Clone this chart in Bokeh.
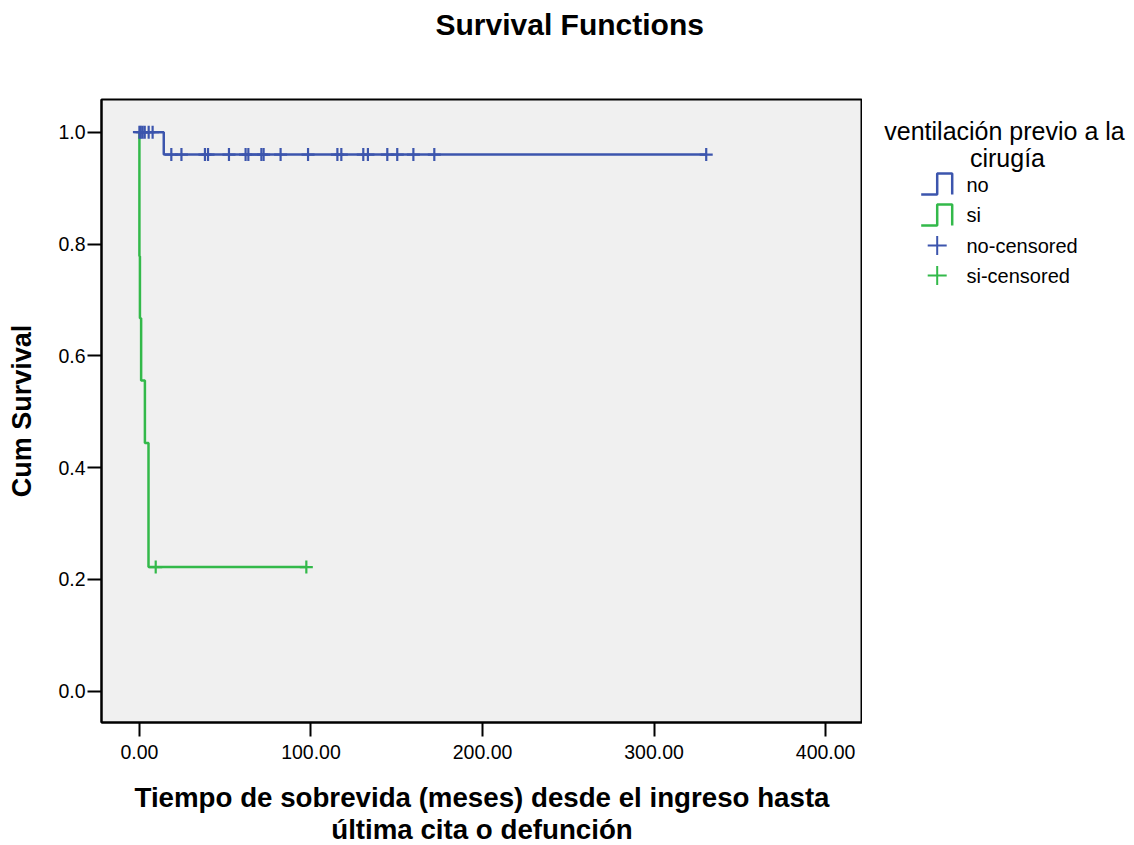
from bokeh.plotting import figure
from bokeh.models import Range1d, FixedTicker, PrintfTickFormatter, Title
from bokeh.layouts import row
from bokeh.embed import file_html
from bokeh.resources import INLINE
from bokeh.core.properties import value

# ---------------- data ----------------
chart_title = "Survival Functions"
group_names = ["no", "si"]
legend_labels = ["no", "si", "no-censored", "si-censored"]
legend_title = ["ventilación previo a la", "cirugía"]

# Kaplan-Meier step curves (time in months, cumulative survival)
no_time = [0.0, 14.2, 330.4]
no_surv = [1.0, 0.96, 0.96]
si_time = [0.0, 0.0, 0.3, 1.0, 3.2, 5.3, 97.3]
si_surv = [1.0, 0.778, 0.667, 0.556, 0.444, 0.222, 0.222]

# censored observations (months)
no_censored = [0.0, 0.8, 1.9, 3.1, 5.4, 7.7, 18.6, 24.5, 38.2, 40.0, 52.2,
               61.9, 63.5, 71.1, 72.4, 82.3, 98.3, 115.4, 117.7, 130.5,
               133.2, 144.5, 150.3, 159.7, 171.9, 330.4]
si_censored = [9.5, 97.3]

x_ticks = [0, 100, 200, 300, 400]
y_ticks = [0.0, 0.2, 0.4, 0.6, 0.8, 1.0]

BLUE = "#3c55ad"
GREEN = "#33b94a"
FONT = "Liberation Sans"


def surv_at(times, surv, t):
    s = surv[0]
    for ti, si in zip(times, surv):
        if ti <= t:
            s = si
    return s


no_cens_y = [surv_at(no_time, no_surv, t) for t in no_censored]
si_cens_y = [surv_at(si_time, si_surv, t) for t in si_censored]

# frame placement (page pixels)
FL, FT, FW, FH, FB = 101, 99, 761, 623, 122

# ---------------- main plot ----------------
p = figure(
    frame_width=FW, frame_height=FH, title_location=None,
    min_border_left=FL, min_border_right=0, min_border_top=FT, min_border_bottom=FB,
    x_range=Range1d(-22.1, 421.5), y_range=Range1d(-0.056, 1.0585),
    output_backend="svg", toolbar_location=None,
)
# spacer between frame and title, then the title itself (further from frame)
p.add_layout(Title(text=" ", text_font_size="1px", standoff=54), "above")
p.add_layout(Title(text=chart_title, align="left", offset=334, standoff=4,
                   text_font=FONT, text_font_size="30px", text_font_style="bold",
                   text_color="black"), "above")

p.background_fill_color = "#f0f0f0"
p.border_fill_color = "white"
p.outline_line_color = "black"
p.outline_line_width = 2
p.xgrid.visible = False
p.ygrid.visible = False

p.step(no_time, no_surv, mode="after", line_color=BLUE, line_width=2.5)
p.step(si_time, si_surv, mode="after", line_color=GREEN, line_width=2.5)
p.scatter(no_censored, no_cens_y, marker="cross", size=13, line_color=BLUE, line_width=2.2)
p.scatter(si_censored, si_cens_y, marker="cross", size=13, line_color=GREEN, line_width=2.2)

for ax in (p.xaxis[0], p.yaxis[0]):
    ax.axis_line_color = "black"
    ax.axis_line_width = 2
    ax.major_tick_line_color = "black"
    ax.major_tick_line_width = 2
    ax.major_tick_out = 14
    ax.major_tick_in = 0
    ax.minor_tick_line_color = None
    ax.major_label_text_font = FONT
    ax.major_label_text_font_size = "19.5px"
    ax.major_label_text_color = "black"
    ax.axis_label_text_font = FONT
    ax.axis_label_text_font_style = "bold"
    ax.axis_label_text_color = "black"

p.xaxis.ticker = FixedTicker(ticks=x_ticks)
p.xaxis.formatter = PrintfTickFormatter(format="%.2f")
p.xaxis.major_label_standoff = 8
p.xaxis.axis_label = "Tiempo de sobrevida (meses) desde el ingreso hasta\núltima cita o defunción"
p.xaxis.axis_label_standoff = 20
p.xaxis.axis_label_text_font_size = "27.7px"
p.xaxis.axis_label_text_line_height = 1.05

p.yaxis.ticker = FixedTicker(ticks=y_ticks)
p.yaxis.formatter = PrintfTickFormatter(format="%.1f")
p.yaxis.major_label_standoff = 2
p.yaxis.axis_label = "Cum Survival"
p.yaxis.axis_label_standoff = 18
p.yaxis.axis_label_text_font_size = "27px"

# ---------------- legend panel (page-pixel coordinates) ----------------
LW = 264
lg = figure(frame_width=LW, frame_height=FH, title_location=None,
            min_border_left=0, min_border_right=0, min_border_top=FT, min_border_bottom=FB,
            x_range=Range1d(FL + FW, FL + FW + LW), y_range=Range1d(FT + FH, FT),
            x_axis_type=None, y_axis_type=None, output_backend="svg",
            toolbar_location=None)
lg.outline_line_color = None
lg.xgrid.visible = False
lg.ygrid.visible = False
lg.background_fill_color = "white"
lg.border_fill_color = "white"

lg.text(x=[1004, 1007], y=[130, 157], text=legend_title, text_align="center",
        text_baseline="middle", text_font=value(FONT), text_font_size="25px",
        text_color="black")
item_y = [184, 214, 245, 275]
lg.text(x=[966] * 4, y=item_y, text=legend_labels, text_align="left",
        text_baseline="middle", text_font=value(FONT), text_font_size="20px",
        text_color="black")
# step icons
for col, yb in ((BLUE, 194), (GREEN, 225)):
    lg.line([920.7, 936.7, 936.7, 951.7, 951.7], [yb, yb, yb - 21, yb - 21, yb],
            line_color=col, line_width=2.5)
lg.scatter([936.7, 936.7], [245, 275], marker="cross", size=19,
           line_color=[BLUE, GREEN], line_width=2)

layout = row(p, lg)
open("out.html", "w").write(file_html(layout, INLINE))
